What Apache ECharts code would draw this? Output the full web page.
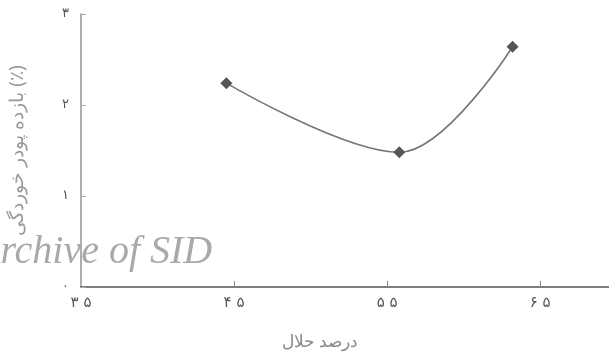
<!DOCTYPE html>
<html>
<head>
<meta charset="utf-8">
<script src="https://cdn.jsdelivr.net/npm/echarts@6/dist/echarts.min.js"></script>
<style>
html,body{margin:0;padding:0;background:#fff;}
#chart{width:609px;height:357px;}
</style>
</head>
<body>
<div id="chart"></div>
<script>
// Data
const xValues = [44.5, 55.8, 63.2];
const yValues = [2.24, 1.48, 2.64];
const xTickValues = [35, 45, 55, 65];
const yTickValues = [0, 1, 2, 3];
const xTitle = 'درصد حلال';
const yTitle = 'بازده پودر خوردگی (٪)';
const watermark = 'Archive of SID';

const faDigits = '۰۱۲۳۴۵۶۷۸۹';
function toFa(v) {
  return String(v).replace(/[0-9]/g, d => faDigits[+d]);
}

const points = xValues.map((x, i) => [x, yValues[i]]);

const chart = echarts.init(document.getElementById('chart'), null, {renderer: 'canvas'});
chart.setOption({
  animation: false,
  backgroundColor: '#ffffff',
  grid: {left: 78, right: 0, top: 14, bottom: 70, containLabel: false},
  xAxis: {
    type: 'value',
    min: 35,
    max: 69.5,
    axisLine: {show: true, lineStyle: {color: '#555', width: 1.6}},
    axisTick: {show: true, inside: true, length: 6, customValues: xTickValues.slice(1), lineStyle: {color: '#888'}},
    axisLabel: {
      customValues: xTickValues,
      formatter: v => toFa(v).split('').join(' '),
      fontFamily: 'DejaVu Sans',
      fontSize: 15,
      color: '#555',
      margin: 9
    },
    splitLine: {show: false}
  },
  yAxis: {
    type: 'value',
    min: 0,
    max: 3,
    interval: 1,
    axisLine: {show: true, lineStyle: {color: '#999', width: 1.6}},
    axisTick: {show: true, inside: true, length: 5, lineStyle: {color: '#aaa'}},
    axisLabel: {
      formatter: v => toFa(v),
      fontFamily: 'DejaVu Sans',
      fontSize: 13,
      color: '#555',
      margin: 12
    },
    splitLine: {show: false},
    name: yTitle,
    nameLocation: 'middle',
    nameRotate: 90,
    nameGap: 54,
    nameTextStyle: {fontFamily: 'Noto Sans', fontSize: 19, color: '#999'}
  },
  graphic: [
    {
      type: 'text',
      x: 320,
      y: 334,
      style: {text: xTitle, font: '17px "Noto Sans"', fill: '#888', textAlign: 'center'}
    },
    {
      type: 'text',
      x: -24,
      y: 232,
      z: 100,
      style: {
        text: watermark,
        font: 'italic 40px "Liberation Serif"',
        fill: '#a9a9a9'
      }
    }
  ],
  series: [{
    type: 'line',
    data: points,
    smooth: 0.35,
    symbol: 'diamond',
    symbolSize: 12,
    itemStyle: {color: '#555'},
    lineStyle: {color: '#777', width: 1.6}
  }]
});
</script>
</body>
</html>
